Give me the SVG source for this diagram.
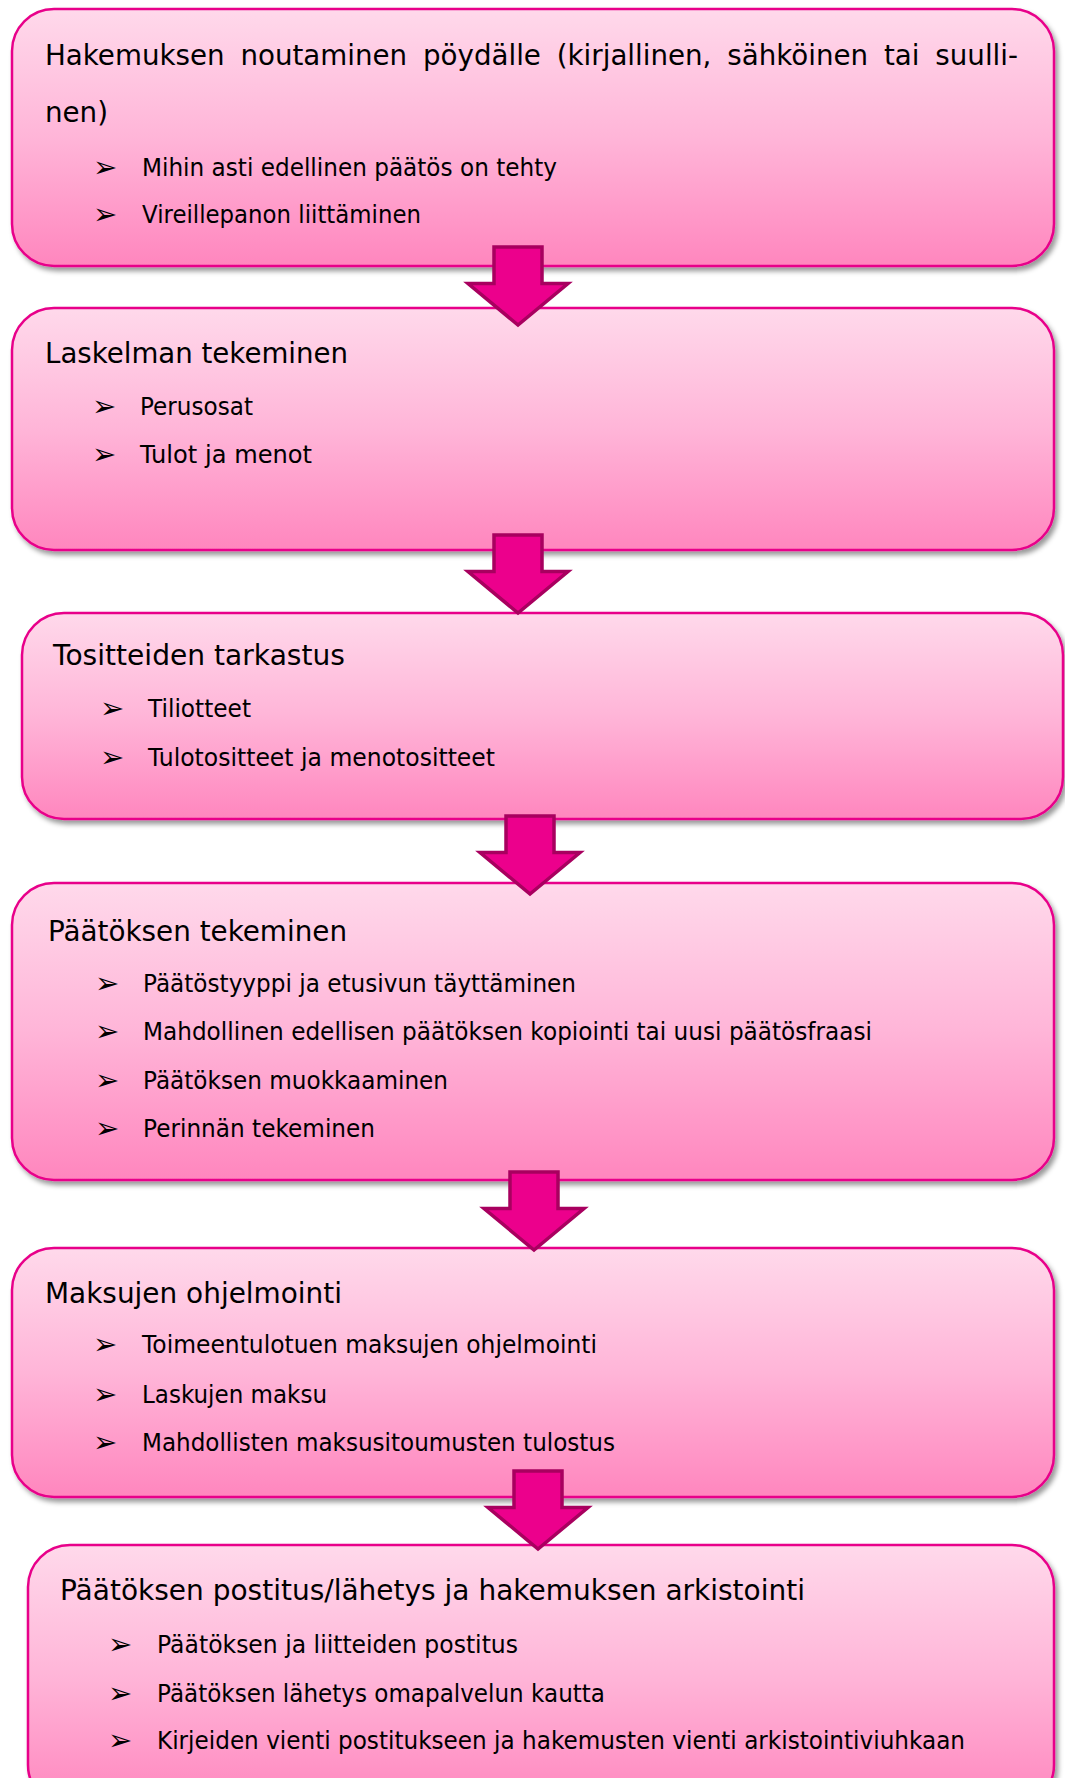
<svg xmlns="http://www.w3.org/2000/svg" xmlns:xlink="http://www.w3.org/1999/xlink" width="1065" height="1778" viewBox="0 0 1065 1778">
<style>
.box{fill:url(#pink);stroke:#E8008A;stroke-width:2.5;filter:url(#sh)}
.t{font-family:"DejaVu Sans","Liberation Sans",sans-serif;fill:#000}
.h{font-size:29px}
.b{font-size:25px}
.g{font-size:29px}
.arrow{fill:#EC008C;stroke:#A8005F;stroke-width:3.5;stroke-linejoin:miter}
</style>
<defs>
<linearGradient id="pink" x1="0" y1="0" x2="0" y2="1">
<stop offset="0" stop-color="#FFD9EB"/>
<stop offset="0.5" stop-color="#FFB5D8"/>
<stop offset="1" stop-color="#FF86BE"/>
</linearGradient>
<filter id="sh" x="-5%" y="-10%" width="110%" height="125%">
<feDropShadow dx="3" dy="4" stdDeviation="2.5" flood-color="#000" flood-opacity="0.4"/>
</filter>
<path id="arr" class="arrow" d="M-24,0 H24 V36.5 H50 L0,78 L-50,36.5 H-24 Z"/>
</defs>
<rect width="1065" height="1778" fill="#fff"/>

<g id="node1">
<rect class="box" x="12" y="9" width="1042" height="257" rx="42"/>
<text class="t" x="45" y="65" font-size="27.5" word-spacing="7" textLength="973" lengthAdjust="spacingAndGlyphs">Hakemuksen noutaminen pöydälle (kirjallinen, sähköinen tai suulli-</text>
<text class="t h" x="45" y="122" textLength="63" lengthAdjust="spacingAndGlyphs">nen)</text>
<text class="t g" x="93" y="177">➢</text>
<text class="t b" x="142" y="176" textLength="415" lengthAdjust="spacingAndGlyphs">Mihin asti edellinen päätös on tehty</text>
<text class="t g" x="93" y="224">➢</text>
<text class="t b" x="142" y="223" textLength="279" lengthAdjust="spacingAndGlyphs">Vireillepanon liittäminen</text>
</g>

<g id="node2">
<rect class="box" x="12" y="308" width="1042" height="242" rx="42"/>
<text class="t h" x="45" y="363" textLength="303" lengthAdjust="spacingAndGlyphs">Laskelman tekeminen</text>
<text class="t g" x="92" y="416">➢</text>
<text class="t b" x="140" y="415" textLength="113" lengthAdjust="spacingAndGlyphs">Perusosat</text>
<text class="t g" x="92" y="464">➢</text>
<text class="t b" x="140" y="463" textLength="172" lengthAdjust="spacingAndGlyphs">Tulot ja menot</text>
</g>

<g id="node3">
<rect class="box" x="22" y="613" width="1041" height="206" rx="42"/>
<text class="t h" x="53" y="665" textLength="292" lengthAdjust="spacingAndGlyphs">Tositteiden tarkastus</text>
<text class="t g" x="100" y="718">➢</text>
<text class="t b" x="148" y="717" textLength="103" lengthAdjust="spacingAndGlyphs">Tiliotteet</text>
<text class="t g" x="100" y="767">➢</text>
<text class="t b" x="148" y="766" textLength="347" lengthAdjust="spacingAndGlyphs">Tulotositteet ja menotositteet</text>
</g>

<g id="node4">
<rect class="box" x="12" y="883" width="1042" height="297" rx="42"/>
<text class="t h" x="48" y="941" textLength="299" lengthAdjust="spacingAndGlyphs">Päätöksen tekeminen</text>
<text class="t g" x="95" y="993">➢</text>
<text class="t b" x="143" y="992" textLength="433" lengthAdjust="spacingAndGlyphs">Päätöstyyppi ja etusivun täyttäminen</text>
<text class="t g" x="95" y="1041">➢</text>
<text class="t b" x="143" y="1040" textLength="729" lengthAdjust="spacingAndGlyphs">Mahdollinen edellisen päätöksen kopiointi tai uusi päätösfraasi</text>
<text class="t g" x="95" y="1090">➢</text>
<text class="t b" x="143" y="1089" textLength="305" lengthAdjust="spacingAndGlyphs">Päätöksen muokkaaminen</text>
<text class="t g" x="95" y="1138">➢</text>
<text class="t b" x="143" y="1137" textLength="232" lengthAdjust="spacingAndGlyphs">Perinnän tekeminen</text>
</g>

<g id="node5">
<rect class="box" x="12" y="1248" width="1042" height="249" rx="42"/>
<text class="t h" x="45" y="1303" textLength="297" lengthAdjust="spacingAndGlyphs">Maksujen ohjelmointi</text>
<text class="t g" x="93" y="1354">➢</text>
<text class="t b" x="142" y="1353" textLength="455" lengthAdjust="spacingAndGlyphs">Toimeentulotuen maksujen ohjelmointi</text>
<text class="t g" x="93" y="1404">➢</text>
<text class="t b" x="142" y="1403" textLength="185" lengthAdjust="spacingAndGlyphs">Laskujen maksu</text>
<text class="t g" x="93" y="1452">➢</text>
<text class="t b" x="142" y="1451" textLength="473" lengthAdjust="spacingAndGlyphs">Mahdollisten maksusitoumusten tulostus</text>
</g>

<g id="node6">
<rect class="box" x="28" y="1545" width="1026" height="262" rx="42"/>
<text class="t h" x="60" y="1600" textLength="745" lengthAdjust="spacingAndGlyphs">Päätöksen postitus/lähetys ja hakemuksen arkistointi</text>
<text class="t g" x="108" y="1654">➢</text>
<text class="t b" x="157" y="1653" textLength="361" lengthAdjust="spacingAndGlyphs">Päätöksen ja liitteiden postitus</text>
<text class="t g" x="108" y="1703">➢</text>
<text class="t b" x="157" y="1702" textLength="448" lengthAdjust="spacingAndGlyphs">Päätöksen lähetys omapalvelun kautta</text>
<text class="t g" x="108" y="1750">➢</text>
<text class="t b" x="157" y="1749" textLength="808" lengthAdjust="spacingAndGlyphs">Kirjeiden vienti postitukseen ja hakemusten vienti arkistointiviuhkaan</text>
</g>

<g id="connectors">
<use xlink:href="#arr" href="#arr" transform="translate(518,247)"/>
<use xlink:href="#arr" href="#arr" transform="translate(518,535)"/>
<use xlink:href="#arr" href="#arr" transform="translate(530,816)"/>
<use xlink:href="#arr" href="#arr" transform="translate(534,1172)"/>
<use xlink:href="#arr" href="#arr" transform="translate(538,1471)"/>
</g>
</svg>
